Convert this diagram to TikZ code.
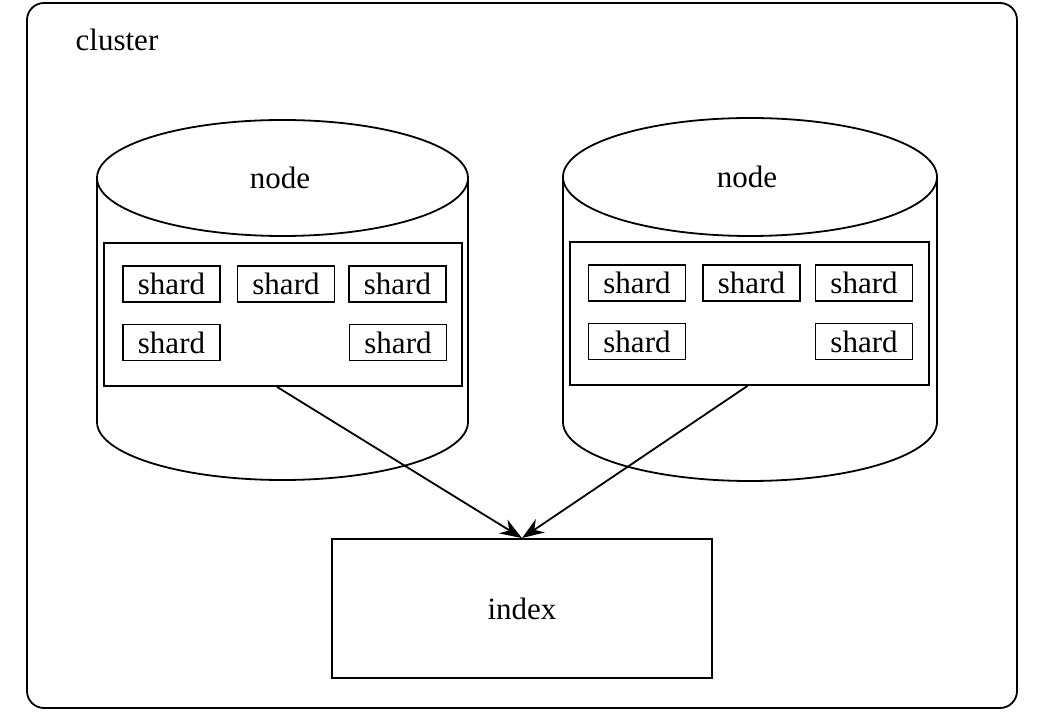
\documentclass[tikz,border=0pt]{standalone}
\usepackage{fontspec}
\setmainfont{Liberation Serif}
\usetikzlibrary{arrows.meta}
\begin{document}
\begin{tikzpicture}[x=1pt,y=1pt,
  every node/.style={font=\fontsize{31}{37}\selectfont},
  ln/.style={line width=1.8pt},
  shardbox/.style={draw,ln,minimum width=97pt,minimum height=36pt,inner sep=0pt},
  innerbox/.style={draw,ln,inner sep=0pt},
  conn/.style={ln,-{Stealth[length=22pt,width=16pt]}}]
\useasboundingbox (0,0) rectangle (1040,712);
% cluster
\draw[ln,rounded corners=17pt] (27,4) rectangle (1017,709);
\node (cl) at (117,672) {cluster};
% left cylinder
\draw[ln] (282.5,534) ellipse [x radius=185.5,y radius=58];
\draw[ln] (97,534) -- (97,290) arc[start angle=180,end angle=360,x radius=185.5,y radius=58] -- (468,534);
\node (n1) at (280,534) {node};
% right cylinder
\draw[ln] (750,535) ellipse [x radius=187,y radius=59];
\draw[ln] (563,535) -- (563,290) arc[start angle=180,end angle=360,x radius=187,y radius=59] -- (937,535);
\node (n2) at (747,535) {node};
% inner boxes
\node[innerbox,minimum width=358pt,minimum height=143pt] (L) at (283,397.5) {};
\node[innerbox,minimum width=359pt,minimum height=143pt] (R) at (749.5,398.5) {};
% shards left
\node[shardbox] (l1) at (171.5,428) {shard};
\node[shardbox] (l2) at (286,428) {shard};
\node[shardbox] (l3) at (397.5,428) {shard};
\node[shardbox] (l4) at (171.5,369.5) {shard};
\node[shardbox] (l5) at (398,369.5) {shard};
% shards right
\node[shardbox] (r1) at (637,429) {shard};
\node[shardbox] (r2) at (751.5,429) {shard};
\node[shardbox] (r3) at (864,429) {shard};
\node[shardbox] (r4) at (637,370.5) {shard};
\node[shardbox] (r5) at (864,370.5) {shard};
% index
\node[draw,ln,minimum width=380pt,minimum height=139pt,inner sep=0pt] (idx) at (522,103.5) {index};
% arrows
\draw[conn] ([xshift=-6pt]L.south) -- (idx.north);
\draw[conn] ([xshift=-2pt]R.south) -- (idx.north);
\end{tikzpicture}
\end{document}
